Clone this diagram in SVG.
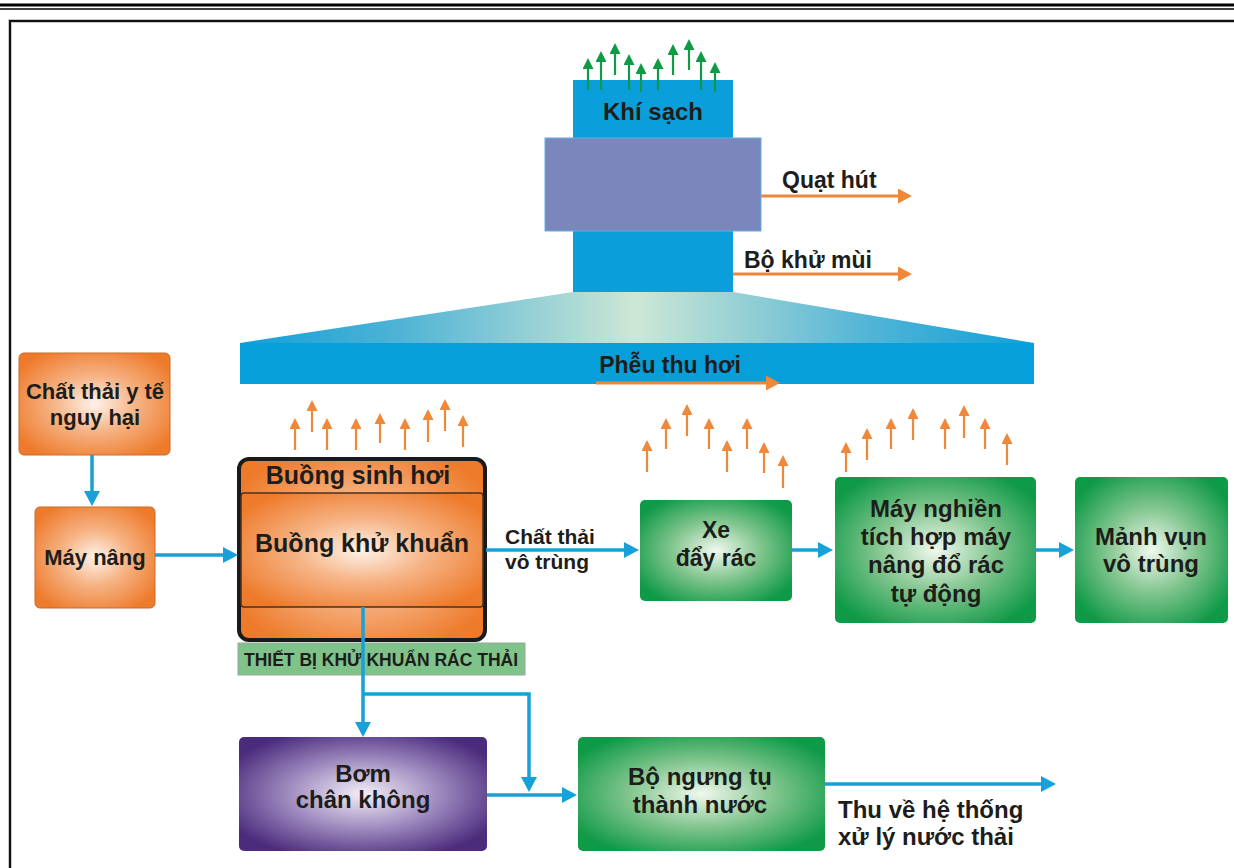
<svg xmlns="http://www.w3.org/2000/svg" width="1234" height="868" viewBox="0 0 1234 868">
<defs>
<style>
.t{font-family:"Liberation Sans",Arial,sans-serif;font-weight:bold;fill:#1d1d1b;}
.c{text-anchor:middle;}
.bl{stroke:#18a0d8;stroke-width:3.5;fill:none;}
.ol{stroke:#f0883a;stroke-width:3;fill:none;}
.os{stroke:#f0883a;stroke-width:2.2;fill:none;marker-end:url(#mos);}
.gs{stroke:#0f9a45;stroke-width:2.2;fill:none;marker-end:url(#mgs);}
</style>
<marker id="mb" viewBox="0 0 15 16" refX="11" refY="8" markerWidth="15" markerHeight="16" orient="auto" markerUnits="userSpaceOnUse"><path d="M0,0 L15,8 L0,16 z" fill="#18a0d8"/></marker>
<marker id="mo" viewBox="0 0 14 15" refX="10" refY="7.5" markerWidth="14" markerHeight="15" orient="auto" markerUnits="userSpaceOnUse"><path d="M0,0 L14,7.5 L0,15 z" fill="#f0883a"/></marker>
<marker id="mos" viewBox="0 0 11 11" refX="8" refY="5.5" markerWidth="11" markerHeight="11" orient="auto" markerUnits="userSpaceOnUse"><path d="M0,0 L11,5.5 L0,11 z" fill="#f0883a"/></marker>
<marker id="mgs" viewBox="0 0 11 11" refX="8" refY="5.5" markerWidth="11" markerHeight="11" orient="auto" markerUnits="userSpaceOnUse"><path d="M0,0 L11,5.5 L0,11 z" fill="#0f9a45"/></marker>
<radialGradient id="gor" cx="0.5" cy="0.5" r="0.6"><stop offset="0" stop-color="#fdf3ea"/><stop offset="0.45" stop-color="#f6b486"/><stop offset="1" stop-color="#ee7b2c"/></radialGradient>
<radialGradient id="ggr" cx="0.5" cy="0.5" r="0.6"><stop offset="0" stop-color="#f0f8ee"/><stop offset="0.5" stop-color="#7fc48c"/><stop offset="1" stop-color="#0f9a47"/></radialGradient>
<radialGradient id="gpu" cx="0.5" cy="0.5" r="0.6"><stop offset="0" stop-color="#f3eef7"/><stop offset="0.5" stop-color="#a08cc0"/><stop offset="1" stop-color="#4a2b7c"/></radialGradient>
<linearGradient id="gfun" x1="0" y1="0" x2="1" y2="0"><stop offset="0" stop-color="#0fa0d8"/><stop offset="0.2" stop-color="#4fb3d6"/><stop offset="0.5" stop-color="#cde7d5"/><stop offset="0.8" stop-color="#4fb3d6"/><stop offset="1" stop-color="#0fa0d8"/></linearGradient>
</defs>

<g id="frame">
<line x1="0" y1="5" x2="1234" y2="5" stroke="#000" stroke-width="3"/>
<line x1="0" y1="9" x2="1234" y2="9" stroke="#000" stroke-width="1.6"/>
<path d="M10,868 V21 H1234" fill="none" stroke="#c8c8c8" stroke-width="4"/>
<path d="M10,868 V21 H1234" fill="none" stroke="#111" stroke-width="2"/>
</g>

<g id="stack">
<rect x="573" y="80" width="160" height="212" fill="#0a9fda"/>
<rect x="545" y="138" width="216" height="93" fill="#7b86bd" stroke="#5fb0e0" stroke-width="1"/>
<text class="t c" x="653" y="120" font-size="24">Khí sạch</text>
</g>

<g id="clean-air">
<line class="gs" x1="588" y1="90" x2="588" y2="61"/>
<line class="gs" x1="601" y1="90" x2="601" y2="54"/>
<line class="gs" x1="615" y1="75" x2="615" y2="46"/>
<line class="gs" x1="629" y1="90" x2="629" y2="57"/>
<line class="gs" x1="641" y1="92" x2="641" y2="66"/>
<line class="gs" x1="658" y1="90" x2="658" y2="61"/>
<line class="gs" x1="673" y1="75" x2="673" y2="47"/>
<line class="gs" x1="689" y1="70" x2="689" y2="42"/>
<line class="gs" x1="701" y1="90" x2="701" y2="54"/>
<line class="gs" x1="715" y1="92" x2="715" y2="65"/>
</g>

<g id="fan">
<line class="ol" x1="761" y1="196" x2="908" y2="196" marker-end="url(#mo)"/>
<text class="t" x="782" y="188" font-size="23">Quạt hút</text>
</g>
<g id="deodorizer">
<line class="ol" x1="733" y1="274" x2="908" y2="274" marker-end="url(#mo)"/>
<text class="t" x="744" y="268" font-size="23">Bộ khử mùi</text>
</g>

<g id="funnel">
<polygon points="573,292 733,292 1034,343 240,343" fill="url(#gfun)"/>
<rect x="240" y="343" width="794" height="41" fill="#079fd9"/>
<text class="t c" x="670" y="373" font-size="23">Phễu thu hơi</text>
<line class="ol" x1="596" y1="383" x2="776" y2="383" marker-end="url(#mo)"/>
</g>

<g id="steam">
<line class="os" x1="295" y1="450" x2="295" y2="421"/>
<line class="os" x1="312" y1="432" x2="312" y2="403"/>
<line class="os" x1="327" y1="450" x2="327" y2="421"/>
<line class="os" x1="356" y1="450" x2="356" y2="421"/>
<line class="os" x1="380" y1="443" x2="380" y2="416"/>
<line class="os" x1="405" y1="450" x2="405" y2="421"/>
<line class="os" x1="428" y1="442" x2="428" y2="412"/>
<line class="os" x1="445" y1="431" x2="445" y2="402"/>
<line class="os" x1="463" y1="447" x2="463" y2="418"/>
<line class="os" x1="647" y1="472" x2="647" y2="443"/>
<line class="os" x1="666" y1="449" x2="666" y2="421"/>
<line class="os" x1="687" y1="436" x2="687" y2="407"/>
<line class="os" x1="709" y1="449" x2="709" y2="421"/>
<line class="os" x1="727" y1="472" x2="727" y2="443"/>
<line class="os" x1="747" y1="449" x2="747" y2="421"/>
<line class="os" x1="764" y1="473" x2="764" y2="445"/>
<line class="os" x1="783" y1="488" x2="783" y2="458"/>
<line class="os" x1="846" y1="472" x2="846" y2="445"/>
<line class="os" x1="867" y1="460" x2="867" y2="431"/>
<line class="os" x1="891" y1="449" x2="891" y2="421"/>
<line class="os" x1="913" y1="440" x2="913" y2="411"/>
<line class="os" x1="945" y1="449" x2="945" y2="421"/>
<line class="os" x1="964" y1="438" x2="964" y2="408"/>
<line class="os" x1="985" y1="449" x2="985" y2="421"/>
<line class="os" x1="1007" y1="465" x2="1007" y2="436"/>
</g>

<g id="medical-waste">
<rect x="19" y="353" width="151" height="102" rx="5" fill="url(#gor)" stroke="#c96a2b" stroke-width="1"/>
<text class="t c" x="95" y="399" font-size="22">Chất thải y tế</text>
<text class="t c" x="95" y="425" font-size="22">nguy hại</text>
</g>

<g id="lift">
<rect x="35" y="507" width="120" height="101" rx="5" fill="url(#gor)" stroke="#c96a2b" stroke-width="1"/>
<text class="t c" x="95" y="565" font-size="22">Máy nâng</text>
</g>

<g id="sterilizer">
<rect x="239" y="459" width="246" height="181" rx="10" fill="url(#gor)" stroke="#1a1a1a" stroke-width="4"/>
<rect x="241" y="493" width="242" height="114" rx="3" fill="url(#gor)" stroke="#4a3020" stroke-width="1.5"/>
<text class="t c" x="358" y="484" font-size="25">Buồng sinh hơi</text>
<text class="t c" x="362" y="552" font-size="25">Buồng khử khuẩn</text>
</g>

<g id="device-label">
<rect x="238" y="643" width="287" height="32" fill="#7fc28a" stroke="#9aa89c" stroke-width="1"/>
<text class="t" x="244" y="666" font-size="17.5">THIẾT BỊ KHỬ KHUẨN RÁC THẢI</text>
</g>

<g id="cart">
<rect x="640" y="500" width="152" height="101" rx="5" fill="url(#ggr)"/>
<text class="t c" x="716" y="538" font-size="23">Xe</text>
<text class="t c" x="716" y="566" font-size="23">đẩy rác</text>
</g>

<g id="shredder">
<rect x="835" y="477" width="201" height="146" rx="5" fill="url(#ggr)"/>
<text class="t c" x="936" y="517" font-size="24">Máy nghiền</text>
<text class="t c" x="936" y="545" font-size="24">tích hợp máy</text>
<text class="t c" x="936" y="573" font-size="24">nâng đổ rác</text>
<text class="t c" x="936" y="602" font-size="24">tự động</text>
</g>

<g id="debris">
<rect x="1075" y="477" width="153" height="146" rx="5" fill="url(#ggr)"/>
<text class="t c" x="1151" y="545" font-size="24">Mảnh vụn</text>
<text class="t c" x="1151" y="572" font-size="24">vô trùng</text>
</g>

<g id="pump">
<rect x="239" y="737" width="248" height="114" rx="5" fill="url(#gpu)"/>
<text class="t c" x="363" y="782" font-size="24">Bơm</text>
<text class="t c" x="363" y="808" font-size="24">chân không</text>
</g>

<g id="condenser">
<rect x="578" y="737" width="247" height="114" rx="5" fill="url(#ggr)"/>
<text class="t c" x="700" y="785" font-size="24">Bộ ngưng tụ</text>
<text class="t c" x="700" y="813" font-size="24">thành nước</text>
</g>

<g id="connectors">
<line class="bl" x1="92" y1="455" x2="92" y2="502" marker-end="url(#mb)"/>
<line class="bl" x1="155" y1="555" x2="234" y2="555" marker-end="url(#mb)"/>
<line class="bl" x1="486" y1="550" x2="635" y2="550" marker-end="url(#mb)"/>
<line class="bl" x1="792" y1="550" x2="829" y2="550" marker-end="url(#mb)"/>
<line class="bl" x1="1036" y1="550" x2="1070" y2="550" marker-end="url(#mb)"/>
<line class="bl" x1="363" y1="607" x2="363" y2="733" marker-end="url(#mb)"/>
<polyline class="bl" points="363,694 529,694 529,788" marker-end="url(#mb)"/>
<line class="bl" x1="487" y1="795" x2="573" y2="795" marker-end="url(#mb)"/>
<line class="bl" x1="825" y1="784" x2="1052" y2="784" marker-end="url(#mb)"/>
</g>

<g id="labels">
<text class="t" x="505" y="544" font-size="21">Chất thải</text>
<text class="t" x="505" y="569" font-size="21">vô trùng</text>
<text class="t" x="838" y="818" font-size="24">Thu về hệ thống</text>
<text class="t" x="838" y="845" font-size="24">xử lý nước thải</text>
</g>
</svg>
